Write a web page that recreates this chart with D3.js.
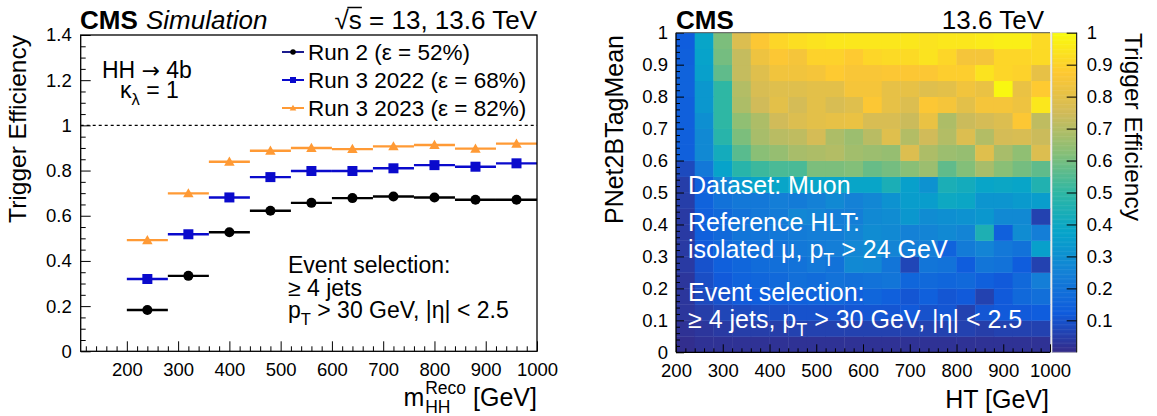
<!DOCTYPE html>
<html><head><meta charset="utf-8">
<script src="https://cdn.jsdelivr.net/npm/d3@7"></script>
<style>body{margin:0;background:#fff} svg{display:block}</style>
</head><body>
<svg id="c" width="1157" height="416"></svg>
<script>
// ---------------- DATA ----------------
const massBins = [200, 280, 360, 440, 520, 600, 680, 760, 840, 920, 1000];
const run2Eff     = [0.183, 0.334, 0.527, 0.622, 0.657, 0.678, 0.685, 0.681, 0.671, 0.671];
const run3y22Eff  = [0.320, 0.518, 0.681, 0.771, 0.798, 0.798, 0.810, 0.824, 0.817, 0.832];
const run3y23Eff  = [0.492, 0.699, 0.839, 0.888, 0.900, 0.895, 0.907, 0.913, 0.897, 0.919];
const seriesLabels = ["Run 2 (ε = 52%)", "Run 3 2022 (ε = 68%)", "Run 3 2023 (ε = 82%)"];
const massTicks = [200, 300, 400, 500, 600, 700, 800, 900, 1000];
const effTicksLeft = [0, 0.2, 0.4, 0.6, 0.8, 1, 1.2, 1.4];

const htEdges  = [200,240,280,320,360,400,440,480,520,560,600,640,680,720,760,800,840,880,920,960,1000];
const tagEdges = [0,0.05,0.1,0.15,0.2,0.25,0.3,0.35,0.4,0.45,0.5,0.55,0.6,0.65,0.7,0.75,0.8,0.85,0.9,0.95,1];
const htTicks  = [200, 300, 400, 500, 600, 700, 800, 900, 1000];
const tagTicks = [0, 0.1, 0.2, 0.3, 0.4, 0.5, 0.6, 0.7, 0.8, 0.9, 1];
const zTicks   = [0.1, 0.2, 0.3, 0.4, 0.5, 0.6, 0.7, 0.8, 0.9, 1];
// trigger efficiency per (PNet bin row, from 0 upward) x (HT bin column)
const trigEff = [
 [0.01,0.02,0.02,0.02,0.02,0.02,0.02,0.02,0.02,0.02,0.02,0.02,0.02,0.02,0.02,0.02,0.02,0.02,0.02,0.02],
 [0.02,0.03,0.04,0.05,0.05,0.05,0.06,0.06,0.06,0.06,0.06,0.06,0.06,0.06,0.06,0.06,0.05,0.06,0.06,0.06],
 [0.03,0.05,0.07,0.08,0.09,0.09,0.10,0.10,0.10,0.11,0.11,0.11,0.12,0.10,0.11,0.06,0.11,0.12,0.12,0.13],
 [0.03,0.08,0.10,0.12,0.13,0.14,0.14,0.15,0.16,0.14,0.16,0.14,0.11,0.14,0.11,0.12,0.06,0.12,0.17,0.19],
 [0.03,0.09,0.12,0.15,0.16,0.17,0.19,0.18,0.20,0.19,0.20,0.21,0.16,0.17,0.16,0.17,0.14,0.12,0.17,0.24],
 [0.04,0.10,0.14,0.16,0.18,0.19,0.20,0.22,0.20,0.28,0.27,0.21,0.07,0.21,0.20,0.13,0.21,0.20,0.13,0.06],
 [0.04,0.12,0.16,0.19,0.19,0.20,0.22,0.23,0.24,0.27,0.29,0.26,0.24,0.24,0.15,0.23,0.26,0.22,0.20,0.36],
 [0.04,0.14,0.17,0.21,0.21,0.22,0.23,0.24,0.24,0.26,0.29,0.28,0.25,0.26,0.28,0.26,0.45,0.14,0.29,0.24],
 [0.04,0.14,0.17,0.20,0.22,0.23,0.27,0.26,0.24,0.24,0.28,0.29,0.33,0.29,0.30,0.31,0.33,0.28,0.28,0.06],
 [0.05,0.15,0.20,0.22,0.22,0.24,0.23,0.25,0.28,0.25,0.27,0.31,0.35,0.35,0.40,0.39,0.32,0.32,0.34,0.35],
 [0.05,0.14,0.26,0.34,0.38,0.38,0.38,0.38,0.38,0.38,0.38,0.44,0.36,0.31,0.44,0.42,0.38,0.39,0.38,0.46],
 [0.08,0.22,0.37,0.48,0.52,0.54,0.54,0.61,0.61,0.62,0.58,0.60,0.63,0.66,0.57,0.62,0.68,0.63,0.60,0.57],
 [0.14,0.28,0.42,0.56,0.63,0.65,0.68,0.69,0.70,0.67,0.66,0.65,0.78,0.69,0.66,0.65,0.79,0.68,0.64,0.78],
 [0.14,0.28,0.48,0.61,0.68,0.71,0.72,0.76,0.69,0.66,0.71,0.79,0.70,0.75,0.70,0.78,0.70,0.76,0.77,0.74],
 [0.14,0.30,0.50,0.64,0.69,0.75,0.78,0.80,0.81,0.82,0.77,0.77,0.74,0.82,0.69,0.74,0.76,0.78,0.87,0.72],
 [0.14,0.33,0.50,0.69,0.75,0.80,0.76,0.80,0.77,0.79,0.87,0.81,0.78,0.87,0.85,0.80,0.85,0.85,0.83,0.95],
 [0.15,0.33,0.50,0.70,0.77,0.79,0.79,0.80,0.80,0.85,0.85,0.81,0.81,0.79,0.80,0.84,0.82,0.99,0.82,0.88],
 [0.15,0.36,0.57,0.73,0.79,0.84,0.84,0.85,0.88,0.86,0.86,0.87,0.87,0.87,0.89,0.89,0.94,0.91,0.90,0.81],
 [0.14,0.37,0.60,0.73,0.83,0.87,0.85,0.90,0.90,0.88,0.91,0.92,0.92,0.94,0.91,0.85,0.85,0.91,0.91,0.92],
 [0.13,0.38,0.61,0.78,0.87,0.91,0.93,0.94,0.95,0.95,0.95,0.95,0.95,0.94,0.95,0.95,0.96,0.97,0.97,0.92]
];
// ROOT kBird palette stops
const birdStops = [0, 0.125, 0.25, 0.375, 0.5, 0.625, 0.75, 0.875, 1];
const birdColors = ["#352a87","#0f5cdd","#1481d6","#06a4ca","#2eb7a4","#87bf77","#d1bb59","#fec832","#f9fb0e"];

// ---------------- DRAW ----------------
const F = "'Liberation Sans', Arial, Helvetica, sans-serif";
const svg = d3.select("#c");
svg.append("rect").attr("width",1157).attr("height",416).attr("fill","#fff");

function styleAxis(g, fs) {
  g.select(".domain").remove();
  g.selectAll("text").attr("font-family", F).attr("font-size", fs || 18).attr("fill", "#000");
  g.selectAll("line").attr("stroke", "#000").attr("stroke-width", 1);
}
function txt(g, x, y, s, fs, opts = {}) {
  return g.append("text").attr("x", x).attr("y", y).attr("font-family", F)
    .attr("font-size", fs).attr("fill", opts.fill || "#000")
    .attr("font-weight", opts.weight || null).attr("font-style", opts.style || null)
    .attr("text-anchor", opts.anchor || "start").text(s);
}
// text with subscript pieces: parts = [[str, "n"|"sub"|"arrow"], ...]
function richText(g, x, y, parts, fs, fill) {
  const t = g.append("text").attr("x", x).attr("y", y).attr("font-family", F)
    .attr("font-size", fs).attr("fill", fill || "#000").attr("xml:space", "preserve");
  let shift = 0;
  parts.forEach(([s, kind]) => {
    const target = kind === "sub" ? fs * 0.3 : 0;
    const ts = t.append("tspan").attr("dy", target - shift)
      .attr("font-size", kind === "sub" ? fs * 0.72 : fs).text(s);
    if (kind === "arrow") ts.attr("font-family", "'DejaVu Sans', sans-serif").attr("font-size", fs * 0.95);
    shift = target;
  });
  return t;
}

// ===== LEFT PANEL =====
const L = {x0: 80.7, x1: 537, y0: 35, y1: 351.3};
const xL = d3.scaleLinear().domain([110, 1000]).range([L.x0, L.x1]);
const yL = d3.scaleLinear().domain([0, 1.4]).range([L.y1, L.y0]);
const gL = svg.append("g");

gL.append("line").attr("x1", L.x0).attr("x2", L.x1).attr("y1", yL(1)).attr("y2", yL(1))
  .attr("stroke", "#000").attr("stroke-width", 1.2).attr("stroke-dasharray", "3,3");

const series = [
  {vals: run2Eff, color: "#000000", legColor: "#1c1c8e", marker: "circle"},
  {vals: run3y22Eff, color: "#0a0acc", legColor: "#0a0acc", marker: "square"},
  {vals: run3y23Eff, color: "#ff9a35", legColor: "#ff9a35", marker: "triangle"}
];
function drawMarker(g, type, cx, cy, s, color) {
  if (type === "circle") g.append("circle").attr("cx", cx).attr("cy", cy).attr("r", s / 2).attr("fill", color);
  else if (type === "square") g.append("rect").attr("x", cx - s / 2).attr("y", cy - s / 2).attr("width", s).attr("height", s).attr("fill", color);
  else g.append("path").attr("d", `M${cx},${cy - s * 0.55}L${cx + s * 0.55},${cy + s * 0.42}L${cx - s * 0.55},${cy + s * 0.42}Z`).attr("fill", color);
}
series.forEach(sr => {
  const g = gL.append("g");
  sr.vals.forEach((v, i) => {
    const a = massBins[i], b = massBins[i + 1];
    g.append("line").attr("x1", xL(a)).attr("x2", xL(b)).attr("y1", yL(v)).attr("y2", yL(v))
      .attr("stroke", sr.color).attr("stroke-width", 2.4);
    drawMarker(g, sr.marker, xL((a + b) / 2), yL(v), sr.marker === "triangle" ? 9.5 : 10, sr.color);
  });
});

// axes
const minorMass = d3.range(120, 1000, 20).filter(d => d % 100 !== 0);
gL.append("g").attr("transform", `translate(0,${L.y1})`)
  .call(d3.axisBottom(xL).tickValues(massTicks).tickSize(-10).tickPadding(12).tickFormat(d3.format("d")))
  .call(g => styleAxis(g, 18.5));
gL.append("g").attr("transform", `translate(0,${L.y1})`)
  .call(d3.axisBottom(xL).tickValues(minorMass).tickSize(-5).tickFormat(""))
  .call(g => styleAxis(g));
const minorEffL = d3.range(0.05, 1.4, 0.05).filter(d => Math.abs(d / 0.2 - Math.round(d / 0.2)) > 0.01);
gL.append("g").attr("transform", `translate(${L.x0},0)`)
  .call(d3.axisLeft(yL).tickValues(effTicksLeft).tickSize(-10).tickPadding(9).tickFormat(d => String(+d.toFixed(1))))
  .call(g => styleAxis(g, 18.5));
gL.append("g").attr("transform", `translate(${L.x0},0)`)
  .call(d3.axisLeft(yL).tickValues(minorEffL).tickSize(-5).tickFormat(""))
  .call(g => styleAxis(g));
gL.append("rect").attr("x", L.x0).attr("y", L.y0).attr("width", L.x1 - L.x0).attr("height", L.y1 - L.y0)
  .attr("fill", "none").attr("stroke", "#000").attr("stroke-width", 1.3);

// titles
txt(gL, 80, 29, "CMS", 26, {weight: "bold"});
txt(gL, 146, 29, "Simulation", 26, {style: "italic"});
const sq = txt(gL, 537, 29, "√s = 13, 13.6 TeV", 26, {anchor: "end"});
{
  const e0 = sq.node().getExtentOfChar(0), e1 = sq.node().getExtentOfChar(1);
  gL.append("line").attr("x1", e0.x + e0.width - 1.5).attr("x2", e1.x + e1.width)
    .attr("y1", e0.y + 2.5).attr("y2", e0.y + 2.5).attr("stroke", "#000").attr("stroke-width", 1.5);
}
// y title
gL.append("text").attr("transform", `translate(26,35) rotate(-90)`).attr("text-anchor", "end")
  .attr("font-family", F).attr("font-size", 24.5).text("Trigger Efficiency");
// x title m_HH^Reco [GeV]
{
  const g = gL.append("g");
  const m = txt(g, 0, 0, "m", 25);
  const wm = m.node().getComputedTextLength();
  const hh = txt(g, wm + 1, 7, "HH", 17.5);
  const rc = txt(g, wm + 1, -12, "Reco", 17.5);
  const w2 = Math.max(hh.node().getComputedTextLength(), rc.node().getComputedTextLength());
  const gv = txt(g, wm + 8 + w2, 0, "[GeV]", 25);
  const total = wm + 8 + w2 + gv.node().getComputedTextLength();
  g.attr("transform", `translate(${537 - total},406)`);
}
// annotations
richText(gL, 102, 77.5, [["HH ", "n"], ["→", "arrow"], [" 4b", "n"]], 23);
richText(gL, 120, 98, [["κ", "n"], ["λ", "sub"], [" = 1", "n"]], 23);
txt(gL, 288, 273, "Event selection:", 23);
txt(gL, 288, 296, "≥ 4 jets", 23);
richText(gL, 288, 318, [["p", "n"], ["T", "sub"], [" > 30 GeV, |η| < 2.5", "n"]], 23);

// legend
const legY = [52, 80, 108];
series.forEach((sr, i) => {
  const y = legY[i];
  gL.append("line").attr("x1", 282).attr("x2", 304).attr("y1", y).attr("y2", y)
    .attr("stroke", sr.legColor).attr("stroke-width", 2);
  drawMarker(gL, sr.marker, 293, y, sr.marker === "circle" ? 5.5 : 6, sr.color);
  txt(gL, 308, y + 8, seriesLabels[i], 22.5);
});

// ===== RIGHT PANEL =====
const R = {x0: 676, x1: 1050, y0: 32.7, y1: 352.3};
const xR = d3.scaleLinear().domain([200, 1000]).range([R.x0, R.x1]);
const yR = d3.scaleLinear().domain([0, 1]).range([R.y1, R.y0]);
const col = d3.scaleLinear().domain(birdStops).range(birdColors).interpolate(d3.interpolateRgb).clamp(true);
const gR = svg.append("g");

const cells = [];
trigEff.forEach((row, j) => row.forEach((v, i) => cells.push({i, j, v})));
gR.append("g").selectAll("rect").data(cells).join("rect")
  .attr("x", d => xR(htEdges[d.i]))
  .attr("y", d => yR(tagEdges[d.j + 1]))
  .attr("width", d => xR(htEdges[d.i + 1]) - xR(htEdges[d.i]) + 0.4)
  .attr("height", d => yR(tagEdges[d.j]) - yR(tagEdges[d.j + 1]) + 0.4)
  .attr("fill", d => col(d.v));

// colorbar
const C = {x0: 1052, x1: 1076.7};
const yC = d3.scaleLinear().domain([0, 1]).range([R.y1, R.y0]);
const steps = d3.range(0, 1, 0.004);
gR.append("g").selectAll("rect").data(steps).join("rect")
  .attr("x", C.x0).attr("width", C.x1 - C.x0)
  .attr("y", d => yC(d + 0.004)).attr("height", d => yC(d) - yC(d + 0.004) + 0.5)
  .attr("fill", d => col(d + 0.002));
gR.append("rect").attr("x", C.x0).attr("y", R.y0).attr("width", C.x1 - C.x0).attr("height", R.y1 - R.y0)
  .attr("fill", "none").attr("stroke", "#c8c8c8").attr("stroke-width", 0.8);
gR.append("g").attr("transform", `translate(${C.x1},0)`)
  .call(d3.axisRight(yC).tickValues(zTicks).tickSize(-10).tickPadding(10).tickFormat(d => String(+d.toFixed(1))))
  .call(g => styleAxis(g, 18.5));
gR.append("line").attr("x1", C.x1).attr("x2", C.x1).attr("y1", R.y0).attr("y2", R.y1).attr("stroke", "#000").attr("stroke-width", 1);
gR.append("text").attr("transform", `translate(1125,33) rotate(90)`).attr("text-anchor", "start")
  .attr("font-family", F).attr("font-size", 24.5).text("Trigger Efficiency");

// axes
const minorHT = d3.range(220, 1000, 20).filter(d => d % 100 !== 0);
gR.append("g").attr("transform", `translate(0,${R.y1})`)
  .call(d3.axisBottom(xR).tickValues(htTicks).tickSize(-8).tickPadding(12).tickFormat(d3.format("d")))
  .call(g => styleAxis(g, 18.5));
gR.append("g").attr("transform", `translate(0,${R.y1})`)
  .call(d3.axisBottom(xR).tickValues(minorHT).tickSize(-4).tickFormat(""))
  .call(g => styleAxis(g));
const minorTag = d3.range(0.02, 1, 0.02).filter(d => Math.abs(d * 10 - Math.round(d * 10)) > 0.01);
gR.append("g").attr("transform", `translate(${R.x0},0)`)
  .call(d3.axisLeft(yR).tickValues(tagTicks).tickSize(-8).tickPadding(8).tickFormat(d => String(+d.toFixed(1))))
  .call(g => styleAxis(g, 18.5));
gR.append("g").attr("transform", `translate(${R.x0},0)`)
  .call(d3.axisLeft(yR).tickValues(minorTag).tickSize(-4).tickFormat(""))
  .call(g => styleAxis(g));
gR.append("line").attr("x1", R.x0).attr("x2", R.x0).attr("y1", R.y0).attr("y2", R.y1).attr("stroke", "#000").attr("stroke-width", 1.3);
gR.append("line").attr("x1", R.x0).attr("x2", R.x1).attr("y1", R.y1).attr("y2", R.y1).attr("stroke", "#000").attr("stroke-width", 1.3);
gR.append("line").attr("x1", R.x0).attr("x2", R.x1).attr("y1", R.y0).attr("y2", R.y0).attr("stroke", "#555").attr("stroke-width", 1);

// titles
txt(gR, 676, 29, "CMS", 26, {weight: "bold"});
txt(gR, 1044, 29, "13.6 TeV", 26, {anchor: "end"});
gR.append("text").attr("transform", `translate(623,35) rotate(-90)`).attr("text-anchor", "end")
  .attr("font-family", F).attr("font-size", 25).text("PNet2BTagMean");
txt(gR, 1049, 408, "HT [GeV]", 25, {anchor: "end"});

// white annotations
txt(gR, 688, 194, "Dataset: Muon", 25, {fill: "#fff"});
txt(gR, 688, 231, "Reference HLT:", 25, {fill: "#fff"});
richText(gR, 688, 258, [["isolated μ, p", "n"], ["T", "sub"], [" > 24 GeV", "n"]], 25, "#fff");
txt(gR, 688, 301, "Event selection:", 25, {fill: "#fff"});
richText(gR, 688, 328, [["≥ 4 jets, p", "n"], ["T", "sub"], [" > 30 GeV, |η| < 2.5", "n"]], 25, "#fff");
</script>
</body></html>
